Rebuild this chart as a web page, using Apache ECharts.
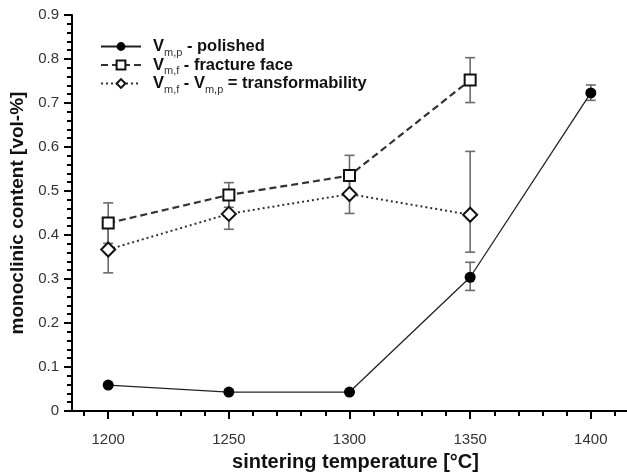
<!DOCTYPE html>
<html>
<head>
<meta charset="utf-8">
<script src="https://cdn.jsdelivr.net/npm/echarts@6/dist/echarts.min.js"></script>
<style>
  html, body { margin: 0; padding: 0; background: #fff; }
  #chart { width: 627px; height: 473px; }
</style>
</head>
<body>
<div id="chart"></div>
<script>
// sintering temperatures
var temps = [1200, 1250, 1300, 1350, 1400];
var majorTicks = [1200, 1250, 1300, 1350, 1400];
var minorTicks = [1190, 1210, 1220, 1230, 1240, 1260, 1270, 1280, 1290, 1310, 1320, 1330, 1340, 1360, 1370, 1380, 1390, 1410];

// V_m,p - polished
var polished = [0.059, 0.043, 0.043, 0.304, 0.723];
var polishedLo = [0.059, 0.043, 0.043, 0.274, 0.706];
var polishedHi = [0.059, 0.043, 0.043, 0.338, 0.741];
// V_m,f - fracture face
var fracture = [0.427, 0.491, 0.535, 0.752];
var fractureLo = [0.381, 0.463, 0.489, 0.701];
var fractureHi = [0.473, 0.519, 0.581, 0.803];
// V_m,f - V_m,p = transformability
var transform = [0.367, 0.448, 0.493, 0.446];
var transformLo = [0.314, 0.413, 0.449, 0.361];
var transformHi = [0.420, 0.483, 0.536, 0.590];

function pts(vals) {
  return vals.map(function (v, i) { return [temps[i], v]; });
}
function bars(lo, hi) {
  return lo.map(function (v, i) { return [temps[i], v, hi[i]]; });
}

function errorItem(params, api) {
  var x = api.value(0);
  var lo = api.coord([x, api.value(1)]);
  var hi = api.coord([x, api.value(2)]);
  var st = { stroke: '#6b6b6b', lineWidth: 1.6 };
  return {
    type: 'group',
    children: [
      { type: 'line', shape: { x1: lo[0], y1: lo[1], x2: hi[0], y2: hi[1] }, style: st },
      { type: 'line', shape: { x1: lo[0] - 5, y1: lo[1], x2: lo[0] + 5, y2: lo[1] }, style: st },
      { type: 'line', shape: { x1: hi[0] - 5, y1: hi[1], x2: hi[0] + 5, y2: hi[1] }, style: st }
    ]
  };
}

var chart = echarts.init(document.getElementById('chart'));

var option = {
  animation: false,
  backgroundColor: '#fff',
  grid: { left: 72, right: 0, top: 15, bottom: 62, outerBoundsMode: 'none', containLabel: false },
  legend: {
    data: ['polished', 'fracture', 'transform'],
    orient: 'vertical',
    left: 100,
    top: 38,
    padding: 0,
    itemGap: -1.5,
    itemWidth: 40,
    itemHeight: 11,
    formatter: function (name) {
      if (name === 'polished') return '{v|V}{s|m,p}{t| - polished}';
      if (name === 'fracture') return '{v|V}{s|m,f}{t| - fracture face}';
      return '{v|V}{s|m,f}{t| - }{v|V}{s|m,p}{t| = transformability}';
    },
    textStyle: {
      padding: [0, 0, 0, 7],
      lineHeight: 15,
      rich: {
        v: { fontFamily: 'Liberation Sans', fontWeight: 'bold', fontSize: 16.5, color: '#111', lineHeight: 15 },
        s: { fontFamily: 'Liberation Sans', fontSize: 11, color: '#333', verticalAlign: 'bottom', lineHeight: 12, padding: [0, 0, -4, 0] },
        t: { fontFamily: 'Liberation Sans', fontWeight: 'bold', fontSize: 16.5, color: '#111', lineHeight: 15 }
      }
    }
  },
  xAxis: [
    {
      type: 'value',
      min: 1185,
      max: 1415,
      name: 'sintering temperature [°C]',
      nameLocation: 'middle',
      nameGap: 41,
      nameTextStyle: { fontFamily: 'Liberation Sans', fontWeight: 'bold', fontSize: 20, color: '#111', padding: [0, 0, 0, 12] },
      axisLine: { lineStyle: { color: '#000', width: 2 } },
      axisTick: { customValues: majorTicks, length: 8, lineStyle: { color: '#000', width: 2 } },
      axisLabel: {
        customValues: majorTicks, margin: 21, fontFamily: 'Liberation Sans', fontSize: 15, color: '#333',
        formatter: function (v) { return String(v); }
      },
      splitLine: { show: false }
    },
    {
      type: 'value',
      min: 1185,
      max: 1415,
      position: 'bottom',
      axisLine: { show: false },
      axisTick: { customValues: minorTicks, length: 5, lineStyle: { color: '#000', width: 2 } },
      axisLabel: { show: false },
      splitLine: { show: false }
    }
  ],
  yAxis: {
    type: 'value',
    min: 0,
    max: 0.9,
    interval: 0.1,
    name: 'monoclinic content [vol-%]',
    nameLocation: 'middle',
    nameGap: 44,
    nameTextStyle: { fontFamily: 'Liberation Sans', fontWeight: 'bold', fontSize: 19, color: '#111' },
    axisLine: { show: true, lineStyle: { color: '#000', width: 2 } },
    axisTick: { show: true, length: 8, lineStyle: { color: '#000', width: 2 } },
    minorTick: { show: true, splitNumber: 5, length: 5, lineStyle: { color: '#000', width: 2 } },
    axisLabel: { margin: 13, fontFamily: 'Liberation Sans', fontSize: 15, color: '#333' },
    splitLine: { show: false },
    minorSplitLine: { show: false }
  },
  series: [
    {
      type: 'custom', name: 'errPolished', renderItem: errorItem, z: 1,
      data: bars(polishedLo, polishedHi)
    },
    {
      type: 'custom', name: 'errFracture', renderItem: errorItem, z: 1,
      data: bars(fractureLo, fractureHi)
    },
    {
      type: 'custom', name: 'errTransform', renderItem: errorItem, z: 1,
      data: bars(transformLo, transformHi)
    },
    {
      name: 'polished', type: 'line', z: 3,
      data: pts(polished),
      symbol: 'circle', symbolSize: 11,
      itemStyle: { color: '#000' },
      lineStyle: { color: '#222', width: 1.3, type: 'solid' }
    },
    {
      name: 'fracture', type: 'line', z: 3,
      data: pts(fracture),
      symbol: 'rect', symbolSize: 11,
      itemStyle: { color: '#fff', borderColor: '#111', borderWidth: 2 },
      lineStyle: { color: '#333', width: 2.2, type: [7, 4] }
    },
    {
      name: 'transform', type: 'line', z: 3,
      data: pts(transform),
      symbol: 'diamond', symbolSize: 14,
      itemStyle: { color: '#fff', borderColor: '#111', borderWidth: 2 },
      lineStyle: { color: '#333', width: 2, type: [2, 3] }
    }
  ]
};

chart.setOption(option);
</script>
</body>
</html>
